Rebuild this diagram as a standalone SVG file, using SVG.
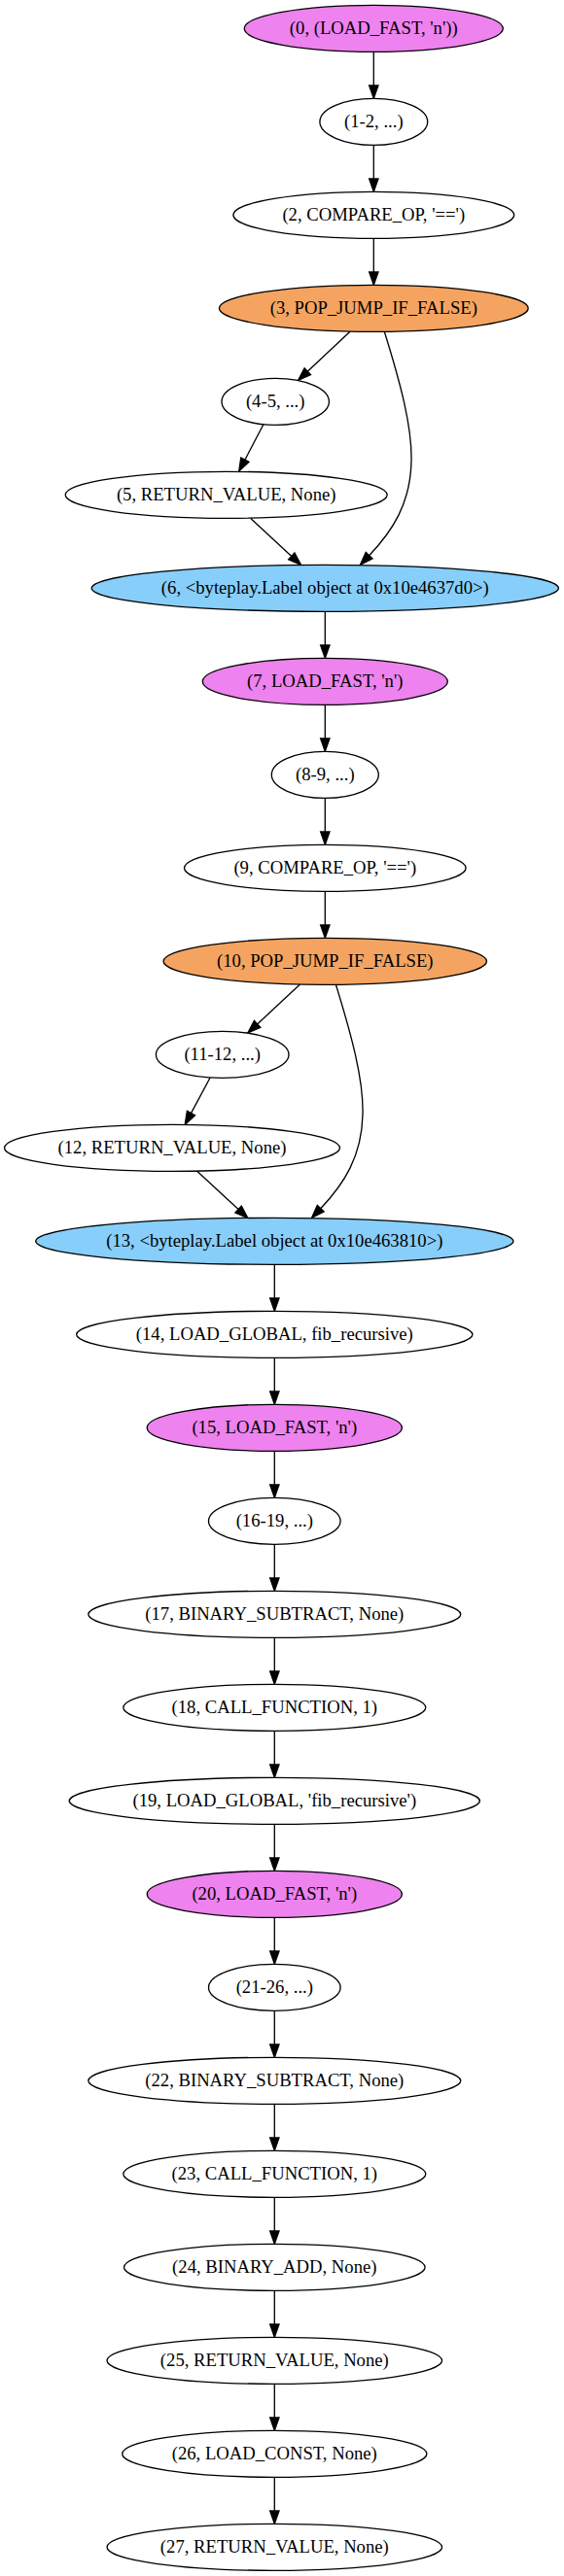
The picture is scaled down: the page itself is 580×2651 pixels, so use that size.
<svg xmlns="http://www.w3.org/2000/svg" width="580" height="2651" viewBox="0 0 580 2651">
<style>
.n ellipse{stroke:#000;stroke-width:1.33;fill:#fff}
.n text{font-family:"Liberation Serif","Times New Roman",serif;font-size:18.67px;text-anchor:middle;fill:#000}
.v ellipse{fill:#ee82ee}
.o ellipse{fill:#f4a460}
.b ellipse{fill:#87cefa}
.e path{fill:none;stroke:#000;stroke-width:1.33;marker-end:url(#arr)}
</style>
<defs>
<marker id="arr" markerUnits="userSpaceOnUse" markerWidth="16" markerHeight="12" refX="0" refY="4.67" orient="auto" overflow="visible">
<path d="M0,0 L13.33,4.67 L0,9.33 Z" fill="#000" stroke="#000" stroke-width="1.33"/>
</marker>
</defs>
<rect width="580" height="2651" fill="#fff"/>
<g id="edges" class="e">
<path d="M384.3,53.33V88"/>
<path d="M384.3,149.33V184"/>
<path d="M384.3,245.33V280"/>
<path d="M360.2,341.1L316.3,382.2"/>
<path d="M395.3,341.3C412,395 424,440 423,475C422,518 404,546 379.6,571.7"/>
<path d="M270.8,437L251.9,473.2"/>
<path d="M257.8,533.5L299.8,572.4"/>
<path d="M334.3,629.33V664"/>
<path d="M334.3,725.33V760"/>
<path d="M334.3,821.33V856"/>
<path d="M334.3,917.33V952"/>
<path d="M308.5,1013L264.6,1053.9"/>
<path d="M345.4,1013.3C362,1067 374,1112 373,1147C372,1190 354,1218 329.7,1243.7"/>
<path d="M216.1,1109L196.5,1145.6"/>
<path d="M202.4,1205L245.1,1244.5"/>
<path d="M282.3,1301.33V1336"/>
<path d="M282.3,1397.33V1432"/>
<path d="M282.3,1493.33V1528"/>
<path d="M282.3,1589.33V1624"/>
<path d="M282.3,1685.33V1720"/>
<path d="M282.3,1781.33V1816"/>
<path d="M282.3,1877.33V1912"/>
<path d="M282.3,1973.33V2008"/>
<path d="M282.3,2069.33V2104"/>
<path d="M282.3,2165.33V2200"/>
<path d="M282.3,2261.33V2296"/>
<path d="M282.3,2357.33V2392"/>
<path d="M282.3,2453.33V2488"/>
<path d="M282.3,2549.33V2584"/>
</g>
<g id="n0" class="n v"><ellipse cx="384.3" cy="29.33" rx="133" ry="24"/><text x="384.3" y="35.3">(0, (LOAD_FAST, 'n'))</text></g>
<g id="n1" class="n"><ellipse cx="384.3" cy="125.33" rx="55.4" ry="24"/><text x="384.3" y="131.3">(1-2, ...)</text></g>
<g id="n2" class="n"><ellipse cx="384.3" cy="221.33" rx="144.4" ry="24"/><text x="384.3" y="227.3">(2, COMPARE_OP, '==')</text></g>
<g id="n3" class="n o"><ellipse cx="384.3" cy="317.33" rx="158.9" ry="24"/><text x="384.3" y="323.3">(3, POP_JUMP_IF_FALSE)</text></g>
<g id="n4" class="n"><ellipse cx="283.2" cy="413.33" rx="55.2" ry="24"/><text x="283.2" y="419.3">(4-5, ...)</text></g>
<g id="n5" class="n"><ellipse cx="232.7" cy="509.33" rx="165.5" ry="24"/><text x="232.7" y="515.3">(5, RETURN_VALUE, None)</text></g>
<g id="n6" class="n b"><ellipse cx="334.3" cy="605.33" rx="240.1" ry="24"/><text x="334.3" y="611.3">(6, &lt;byteplay.Label object at 0x10e4637d0&gt;)</text></g>
<g id="n7" class="n v"><ellipse cx="334.3" cy="701.33" rx="126" ry="24"/><text x="334.3" y="707.3">(7, LOAD_FAST, 'n')</text></g>
<g id="n8" class="n"><ellipse cx="334.3" cy="797.33" rx="55" ry="24"/><text x="334.3" y="803.3">(8-9, ...)</text></g>
<g id="n9" class="n"><ellipse cx="334.3" cy="893.33" rx="144.8" ry="24"/><text x="334.3" y="899.3">(9, COMPARE_OP, '==')</text></g>
<g id="n10" class="n o"><ellipse cx="334.3" cy="989.33" rx="166.2" ry="24"/><text x="334.3" y="995.3">(10, POP_JUMP_IF_FALSE)</text></g>
<g id="n11" class="n"><ellipse cx="228.7" cy="1085.33" rx="68.3" ry="24"/><text x="228.7" y="1091.3">(11-12, ...)</text></g>
<g id="n12" class="n"><ellipse cx="177" cy="1181.33" rx="172.5" ry="24"/><text x="177" y="1187.3">(12, RETURN_VALUE, None)</text></g>
<g id="n13" class="n b"><ellipse cx="282.3" cy="1277.33" rx="245.6" ry="24"/><text x="282.3" y="1283.3">(13, &lt;byteplay.Label object at 0x10e463810&gt;)</text></g>
<g id="n14" class="n"><ellipse cx="282.3" cy="1373.33" rx="203.7" ry="24"/><text x="282.3" y="1379.3">(14, LOAD_GLOBAL, fib_recursive)</text></g>
<g id="n15" class="n v"><ellipse cx="282.3" cy="1469.33" rx="131.1" ry="24"/><text x="282.3" y="1475.3">(15, LOAD_FAST, 'n')</text></g>
<g id="n16" class="n"><ellipse cx="282.3" cy="1565.33" rx="67.8" ry="24"/><text x="282.3" y="1571.3">(16-19, ...)</text></g>
<g id="n17" class="n"><ellipse cx="282.3" cy="1661.33" rx="191.5" ry="24"/><text x="282.3" y="1667.3">(17, BINARY_SUBTRACT, None)</text></g>
<g id="n18" class="n"><ellipse cx="282.3" cy="1757.33" rx="155.5" ry="24"/><text x="282.3" y="1763.3">(18, CALL_FUNCTION, 1)</text></g>
<g id="n19" class="n"><ellipse cx="282.3" cy="1853.33" rx="211.1" ry="24"/><text x="282.3" y="1859.3">(19, LOAD_GLOBAL, 'fib_recursive')</text></g>
<g id="n20" class="n v"><ellipse cx="282.3" cy="1949.33" rx="131.1" ry="24"/><text x="282.3" y="1955.3">(20, LOAD_FAST, 'n')</text></g>
<g id="n21" class="n"><ellipse cx="282.3" cy="2045.33" rx="67.8" ry="24"/><text x="282.3" y="2051.3">(21-26, ...)</text></g>
<g id="n22" class="n"><ellipse cx="282.3" cy="2141.33" rx="191.5" ry="24"/><text x="282.3" y="2147.3">(22, BINARY_SUBTRACT, None)</text></g>
<g id="n23" class="n"><ellipse cx="282.3" cy="2237.33" rx="155.5" ry="24"/><text x="282.3" y="2243.3">(23, CALL_FUNCTION, 1)</text></g>
<g id="n24" class="n"><ellipse cx="282.3" cy="2333.33" rx="154.8" ry="24"/><text x="282.3" y="2339.3">(24, BINARY_ADD, None)</text></g>
<g id="n25" class="n"><ellipse cx="282.3" cy="2429.33" rx="172.3" ry="24"/><text x="282.3" y="2435.3">(25, RETURN_VALUE, None)</text></g>
<g id="n26" class="n"><ellipse cx="282.3" cy="2525.33" rx="156.6" ry="24"/><text x="282.3" y="2531.3">(26, LOAD_CONST, None)</text></g>
<g id="n27" class="n"><ellipse cx="282.3" cy="2621.33" rx="172.3" ry="24"/><text x="282.3" y="2627.3">(27, RETURN_VALUE, None)</text></g>
</svg>
